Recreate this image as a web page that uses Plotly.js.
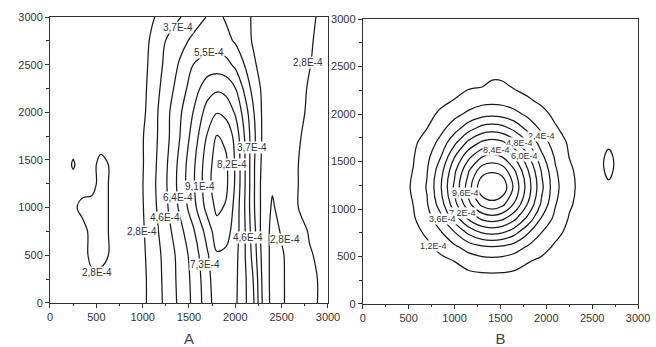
<!DOCTYPE html>
<html>
<head>
<meta charset="utf-8">
<script src="https://cdn.plot.ly/plotly-3.0.1.min.js"></script>
<style>html,body{margin:0;padding:0;background:#fff;}#chart{width:656px;height:347px;}</style>
</head>
<body>
<div id="chart"></div>
<script>
// ---------- Panel A (values in units of 1E-4) ----------
const xA = [0,150,250,350,450,550,650,800,1000,1100,1250,1400,1550,1700,1800,1900,2000,2100,2200,2300,2400,2500,2650,2800,3000];
const yA = [0,250,500,750,1000,1250,1450,1750,2000,2250,2500,2750,3000];
const zA = [
 [2.4,2.4,2.4,2.4,2.5,2.5,2.45,2.4,2.6,3.1,3.9,4.8,5.7,6.9,7.8,7.6,7.45,6.6,5.52,3.5,2.5,2.75,3.0,2.95,2.6],
 [2.4,2.4,2.4,2.45,2.6,2.6,2.5,2.4,2.6,3.1,3.95,4.85,5.75,7.0,7.9,7.75,7.5,6.6,5.4,3.4,2.5,2.75,3.0,2.95,2.6],
 [2.4,2.4,2.4,2.5,3.0,3.0,2.75,2.4,2.65,3.15,4.0,4.9,5.9,7.2,8.1,8.0,7.6,6.5,5.1,3.3,2.55,2.75,3.05,2.85,2.6],
 [2.4,2.4,2.45,2.55,3.0,3.0,2.75,2.4,2.7,3.25,4.2,5.2,6.3,7.7,8.7,8.55,7.8,6.5,4.9,3.2,2.6,2.85,3.1,2.75,2.5],
 [2.4,2.4,2.65,3.0,3.0,3.0,2.75,2.4,2.75,3.35,4.4,5.65,7.0,8.55,9.3,9.0,7.9,6.42,4.7,3.3,2.7,3.1,2.85,2.6,2.4],
 [2.4,2.45,2.55,2.5,2.6,3.0,2.75,2.4,2.78,3.4,4.5,5.8,7.2,8.8,9.6,9.3,8.1,6.5,4.7,3.3,2.9,3.1,2.85,2.6,2.4],
 [2.4,2.42,2.88,2.45,2.6,3.0,2.75,2.4,2.75,3.35,4.45,5.75,7.15,8.75,9.5,9.25,8.1,6.5,4.7,3.4,3.1,3.1,2.85,2.6,2.4],
 [2.4,2.4,2.45,2.45,2.45,2.45,2.45,2.4,2.75,3.3,4.3,5.48,6.8,8.3,9.15,8.9,7.9,6.38,4.8,3.5,3.2,3.1,2.9,2.65,2.4],
 [2.4,2.4,2.4,2.4,2.4,2.4,2.4,2.4,2.6,3.25,4.3,5.35,6.45,7.7,8.15,7.9,7.2,6.0,4.62,3.5,3.2,3.1,3.0,2.7,2.45],
 [2.4,2.4,2.4,2.4,2.4,2.4,2.4,2.4,2.55,3.15,4.1,5.0,6.0,6.9,7.15,7.0,6.42,5.3,4.2,3.5,3.2,3.1,3.0,2.75,2.5],
 [2.4,2.4,2.4,2.4,2.4,2.4,2.4,2.4,2.5,3.05,3.9,4.7,5.52,5.9,5.95,5.8,5.3,4.58,3.8,3.4,3.2,3.1,3.0,2.82,2.55],
 [2.4,2.4,2.4,2.4,2.4,2.4,2.4,2.4,2.45,2.95,3.72,4.3,4.8,5.0,5.0,4.85,4.5,4.0,3.6,3.35,3.2,3.1,3.0,2.85,2.6],
 [2.4,2.4,2.4,2.4,2.4,2.4,2.4,2.4,2.4,2.7,3.2,3.65,4.2,4.65,4.8,4.5,4.2,3.9,3.6,3.35,3.2,3.1,3.0,2.88,2.65]
];
const levelsA = {start: 2.8, size: 0.9, end: 9.2};
const labelsA = [3.7, 5.5, 2.8, 3.7, 8.2, 9.1, 6.4, 4.6, 2.8, 4.6, 2.8, 7.3, 2.8];

// ---------- Panel B (values in units of 1E-4) ----------
const xB = [0,400,550,700,850,1000,1150,1300,1410,1520,1650,1800,1950,2100,2250,2400,2600,2680,2760,3000];
const yB = [0,300,450,600,750,900,1050,1225,1400,1550,1700,1850,2000,2150,2300,2450,3000];
const zB = [
 [0.1,0.2,0.25,0.3,0.35,0.38,0.42,0.44,0.44,0.44,0.43,0.4,0.37,0.33,0.28,0.24,0.18,0.16,0.14,0.1],
 [0.2,0.37,0.42,0.47,0.56,0.78,0.94,1.03,1.05,1.03,0.95,0.8,0.6,0.47,0.43,0.37,0.3,0.26,0.23,0.13],
 [0.25,0.41,0.47,0.66,0.95,1.21,1.65,1.9,1.96,1.9,1.69,1.26,0.99,0.7,0.48,0.42,0.34,0.31,0.27,0.17],
 [0.28,0.46,0.62,0.98,1.48,2.17,2.89,3.41,3.54,3.41,2.99,2.25,1.58,1.03,0.67,0.46,0.38,0.34,0.31,0.2],
 [0.31,0.49,0.87,1.37,2.27,3.51,5.03,6.02,6.25,6.02,5.21,3.7,2.38,1.49,0.92,0.51,0.41,0.37,0.34,0.22],
 [0.33,0.63,1.07,1.92,3.26,5.37,7.33,8.66,8.99,8.66,7.54,5.65,3.48,2.05,1.12,0.69,0.43,0.39,0.36,0.24],
 [0.34,0.74,1.21,2.29,4.21,6.78,9.2,11.15,11.73,11.15,9.5,7.12,4.56,2.46,1.34,0.8,0.45,0.41,0.37,0.25],
 [0.35,0.78,1.32,2.49,4.7,7.44,10.17,12.9,12.9,12.9,10.54,7.8,5.06,2.73,1.47,0.85,0.46,0.6,0.38,0.25],
 [0.34,0.75,1.23,2.34,4.35,6.97,9.48,11.58,11.9,11.58,9.8,7.32,4.71,2.54,1.38,0.81,0.7,1.9,0.7,0.25],
 [0.33,0.67,1.12,2.08,3.57,5.95,8.06,9.58,9.97,9.58,8.31,6.25,3.89,2.22,1.18,0.73,0.7,1.9,0.7,0.24],
 [0.32,0.55,0.98,1.68,2.78,4.51,6.27,7.42,7.69,7.42,6.47,4.77,2.99,1.81,1.04,0.61,0.42,0.6,0.35,0.23],
 [0.3,0.48,0.8,1.19,2.04,3.07,4.29,5.22,5.41,5.22,4.45,3.22,2.15,1.29,0.85,0.49,0.4,0.36,0.33,0.21],
 [0.27,0.45,0.58,0.94,1.36,2.04,2.65,3.16,3.28,3.16,2.75,2.12,1.46,0.99,0.63,0.46,0.37,0.34,0.3,0.19],
 [0.25,0.41,0.47,0.67,0.96,1.22,1.67,1.93,1.99,1.93,1.72,1.29,1.0,0.71,0.48,0.42,0.34,0.31,0.27,0.17],
 [0.21,0.38,0.43,0.48,0.64,0.86,1.02,1.12,1.45,1.4,1.04,0.89,0.67,0.48,0.44,0.39,0.3,0.27,0.24,0.14],
 [0.18,0.33,0.38,0.43,0.47,0.5,0.65,0.73,0.8,0.78,0.66,0.52,0.47,0.43,0.39,0.33,0.26,0.23,0.2,0.11],
 [0.1,0.1,0.12,0.14,0.16,0.18,0.19,0.2,0.2,0.2,0.2,0.19,0.17,0.15,0.13,0.12,0.1,0.1,0.1,0.1]
];
const levelsB = {start: 1.2, size: 1.2, end: 12.1};
const labelsB = [2.4, 4.8, 8.4, 6.0, 9.6, 7.2, 3.6, 1.2];

const tickVals = [0, 500, 1000, 1500, 2000, 2500, 3000];
const panelTitles = ['A', 'B'];

// ---------- drawing ----------
const fmt = v => v.toFixed(1).replace('.', ',') + 'E-4';
const lineCol = '#1a1a1a';
const fontFam = 'Liberation Sans, Arial, sans-serif';

const traces = [
  {type:'contour', x:xA, y:yA, z:zA, xaxis:'x', yaxis:'y',
   contours:{coloring:'none', start:levelsA.start, end:levelsA.end, size:levelsA.size},
   line:{color:lineCol, width:1.25, smoothing:1}, showscale:false, hoverinfo:'skip'},
  {type:'contour', x:xB, y:yB, z:zB, xaxis:'x2', yaxis:'y2',
   contours:{coloring:'none', start:levelsB.start, end:levelsB.end, size:levelsB.size},
   line:{color:lineCol, width:1.25, smoothing:1}, showscale:false, hoverinfo:'skip'}
];

// label anchor spots (data coords)
const spotsA = [[1381,2895],[1716,2623],[2784,2518],[2180,1636],[1964,1448],[1619,1217],[1381,1101],[1241,892],[993,745],[2136,682],[2536,661],[1672,399],[507,315]];
const spotsB = [[1953,1768],[1704,1695],[1463,1621],[1768,1558],[1125,1168],[1082,958],[864,895],[766,610]];

const annotations = [];
labelsA.forEach((v,i)=>annotations.push({xref:'x', yref:'y', x:spotsA[i][0], y:spotsA[i][1], text:fmt(v), showarrow:false,
  bgcolor:'#ffffff', borderpad:0, font:{family:fontFam, size:10, color:'#333'}}));
labelsB.forEach((v,i)=>annotations.push({xref:'x2', yref:'y2', x:spotsB[i][0], y:spotsB[i][1], text:fmt(v), showarrow:false,
  bgcolor:'#ffffff', borderpad:0, font:{family:fontFam, size:9, color:'#333'}}));

function axis(domain, anchor, title){
  const a = {domain:domain, anchor:anchor, range:[0,3000], tickvals:tickVals, ticktext:tickVals.map(String),
    ticks:'outside', ticklen:4, tickwidth:1, tickcolor:'#333',
    showline:true, linecolor:'#333', linewidth:1, mirror:true,
    showgrid:false, zeroline:false, automargin:false,
    tickfont:{family:fontFam, size:11, color:'#333'},
    minor:{dtick:250, tick0:0, ticks:'outside', ticklen:2.5, tickcolor:'#333', showgrid:false}};
  if (title) a.title = {text:title, font:{family:fontFam, size:15, color:'#444'}, standoff:12};
  return a;
}

const layout = {
  width:656, height:347, margin:{l:0,r:0,t:0,b:0},
  paper_bgcolor:'#ffffff', plot_bgcolor:'#ffffff', showlegend:false,
  xaxis: axis([0.0762,0.5], 'y', panelTitles[0]),
  yaxis: axis([0.127,0.951], 'x'),
  xaxis2: axis([0.553,0.9726], 'y2', panelTitles[1]),
  yaxis2: axis([0.124,0.945], 'x2'),
  annotations: annotations
};

Plotly.newPlot('chart', traces, layout, {displayModeBar:false, staticPlot:true});
</script>
</body>
</html>
